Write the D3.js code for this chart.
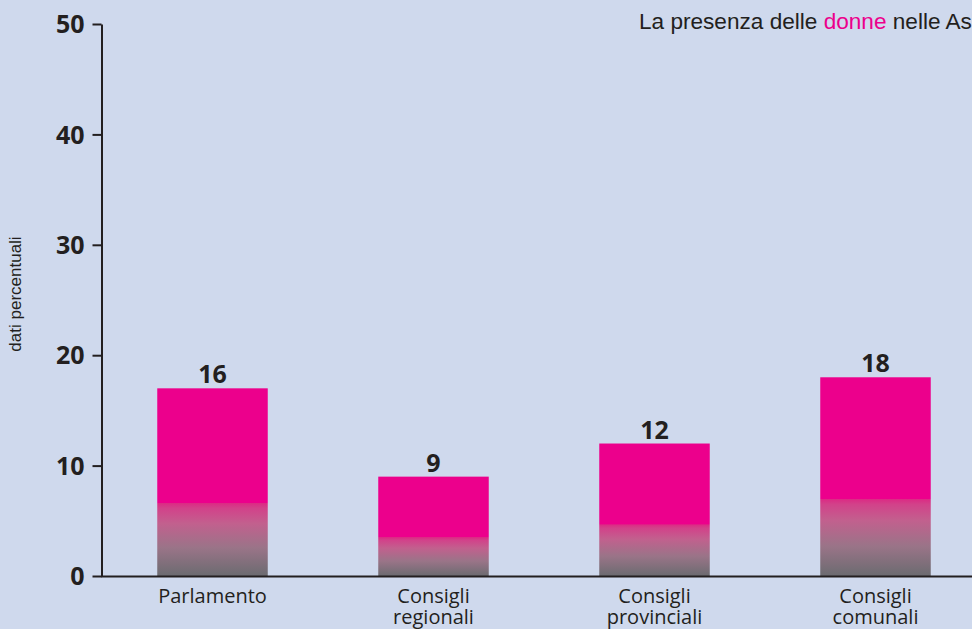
<!DOCTYPE html>
<html>
<head>
<meta charset="utf-8">
<script src="https://cdn.jsdelivr.net/npm/d3@7"></script>
<style>
  html, body { margin: 0; padding: 0; background: #cfd9ed; overflow: hidden; }
  svg { display: block; }
  .tick-label { font-family: "Open Sans", sans-serif; font-weight: 700; font-size: 25px; fill: #231f20; }
  .cat-label { font-family: "Open Sans", sans-serif; font-size: 20px; fill: #231f20; }
  .val-label { font-family: "Open Sans", sans-serif; font-weight: 700; font-size: 25px; fill: #231f20; }
  .y-title { font-family: "Liberation Sans", Arial, sans-serif; font-size: 17px; fill: #231f20; }
  .subtitle { font-family: "Liberation Sans", Arial, sans-serif; font-size: 22.6px; fill: #231f20; }
</style>
</head>
<body>
<div id="chart"></div>
<script>
// data
const categories = ["Parlamento", "Consigli regionali", "Consigli provinciali", "Consigli comunali"];
const barValues = [17, 9, 12, 18];      // bar heights as drawn
const valueLabels = ["16", "9", "12", "18"]; // labels printed above the bars
const yTicks = [0, 10, 20, 30, 40, 50];

const W = 972, H = 629;
const svg = d3.select("#chart").append("svg").attr("width", W).attr("height", H);

svg.append("rect").attr("width", W).attr("height", H).attr("fill", "#cfd9ed");

// gradient for the bottom part of each bar
const defs = svg.append("defs");
const grad = defs.append("linearGradient")
  .attr("id", "barGrad")
  .attr("x1", 0).attr("y1", 0).attr("x2", 0).attr("y2", 1);
[
  [0, "#ec008c"], [0.61, "#ec008c"], [0.612, "#dc2a84"], [0.64, "#d2428a"],
  [0.72, "#c2608e"], [0.85, "#9a7488"], [1, "#6b6b70"]
].forEach(([o, c]) => grad.append("stop").attr("offset", o).attr("stop-color", c));

// scales
const x = d3.scaleBand()
  .domain(categories)
  .range([102, 986])
  .paddingInner(0.5)
  .paddingOuter(0.25);

const y = d3.scaleLinear().domain([0, 50]).range([576, 24]);

// bars
svg.append("g").selectAll("rect")
  .data(categories)
  .join("rect")
  .attr("x", d => x(d))
  .attr("width", x.bandwidth())
  .attr("y", (d, i) => y(barValues[i]))
  .attr("height", (d, i) => y(0) - y(barValues[i]))
  .attr("fill", "url(#barGrad)");

// value labels
svg.append("g").selectAll("text")
  .data(categories)
  .join("text")
  .attr("class", "val-label")
  .attr("x", d => x(d) + x.bandwidth() / 2)
  .attr("y", (d, i) => y(barValues[i]) - 5)
  .attr("text-anchor", "middle")
  .text((d, i) => valueLabels[i]);

// y axis
const yAxis = svg.append("g")
  .attr("transform", "translate(101.5,0)")
  .call(d3.axisLeft(y).tickValues(yTicks).tickSize(9).tickSizeOuter(0).tickFormat(d3.format("d")));
yAxis.select(".domain").attr("stroke", "#231f20").attr("stroke-width", 2);
yAxis.selectAll(".tick line").attr("stroke", "#231f20").attr("stroke-width", 2);
yAxis.selectAll(".tick text")
  .attr("class", "tick-label")
  .attr("x", -17)
  .attr("dy", "0.35em")
  .attr("fill", null);
yAxis.attr("font-size", null).attr("font-family", null);

// x axis line
svg.append("line")
  .attr("x1", 101).attr("x2", W)
  .attr("y1", y(0) + 0.5).attr("y2", y(0) + 0.5)
  .attr("stroke", "#231f20").attr("stroke-width", 2);

// category labels (wrapped on the space)
svg.append("g").selectAll("text")
  .data(categories)
  .join("text")
  .attr("class", "cat-label")
  .attr("text-anchor", "middle")
  .attr("x", d => x(d) + x.bandwidth() / 2)
  .attr("y", 603)
  .each(function(d) {
    const words = d.split(" ");
    const t = d3.select(this);
    words.forEach((w, i) => {
      t.append("tspan")
        .attr("x", x(d) + x.bandwidth() / 2)
        .attr("dy", i === 0 ? 0 : 21)
        .text(w);
    });
  });

// y axis title
svg.append("text")
  .attr("class", "y-title")
  .attr("transform", "translate(21,294) rotate(-90)")
  .attr("text-anchor", "middle")
  .text("dati percentuali");

// subtitle (clipped at the right edge)
const sub = svg.append("text").attr("class", "subtitle").attr("x", 639).attr("y", 29);
sub.append("tspan").text("La presenza delle ");
sub.append("tspan").attr("fill", "#ec008c").text("donne");
sub.append("tspan").text(" nelle Assemblee elettive");

// title, mostly above the visible area
svg.append("text")
  .attr("x", 416).attr("y", -9)
  .attr("text-anchor", "middle")
  .attr("fill", "#ec008c")
  .style("font-family", "'Open Sans', sans-serif")
  .style("font-weight", 700)
  .style("font-size", "40px")
  .text("g");
</script>
</body>
</html>
